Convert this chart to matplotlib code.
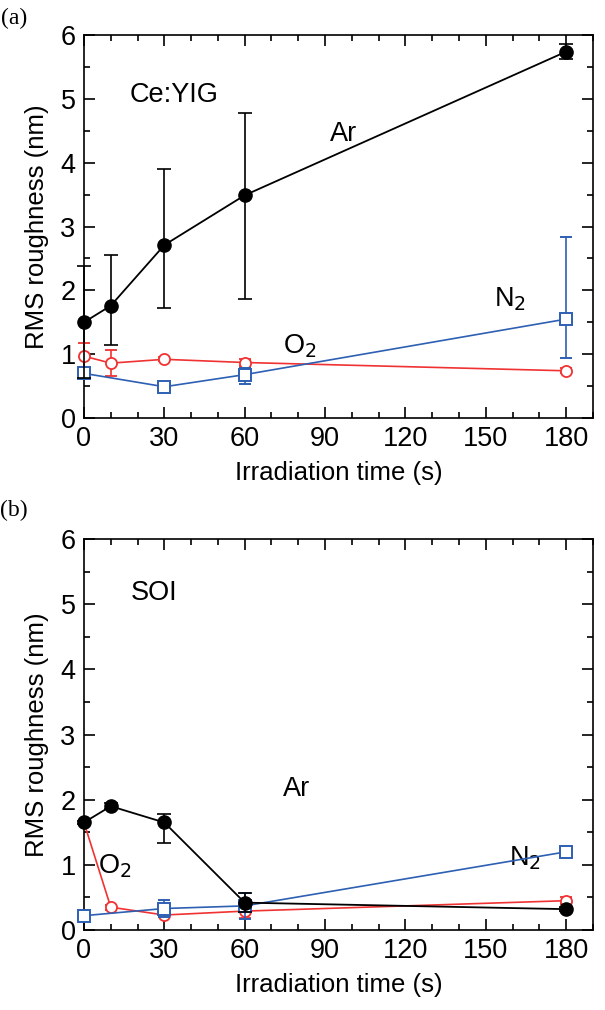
import matplotlib
matplotlib.use("Agg")
import matplotlib.pyplot as plt
from matplotlib.ticker import MultipleLocator

plt.rcParams['font.family'] = ['Liberation Sans', 'DejaVu Sans']

# (a) Ce:YIG
t_ar_a = [0, 10, 30, 60, 180]
ar_a = [1.50, 1.76, 2.71, 3.49, 5.74]
ar_a_lo = [0.88, 0.62, 0.98, 1.62, 0.11]
ar_a_hi = [0.88, 0.79, 1.19, 1.29, 0.12]

t_o2_a = [0, 10, 30, 60, 180]
o2_a = [0.97, 0.86, 0.92, 0.87, 0.74]
o2_a_err = [0.20, 0.20, 0.03, 0.05, 0.04]

t_n2_a = [0, 30, 60, 180]
n2_a = [0.70, 0.49, 0.68, 1.55]
n2_a_lo = [0.09, 0.08, 0.15, 0.61]
n2_a_hi = [0.09, 0.08, 0.10, 1.29]

# (b) SOI
t_ar_b = [0, 10, 30, 60, 180]
ar_b = [1.65, 1.90, 1.65, 0.42, 0.32]
ar_b_lo = [0.03, 0.05, 0.32, 0.15, 0.03]
ar_b_hi = [0.03, 0.05, 0.13, 0.15, 0.03]

t_o2_b = [0, 10, 30, 60, 180]
o2_b = [1.65, 0.35, 0.23, 0.29, 0.45]
o2_b_err = [0.0, 0.04, 0.03, 0.10, 0.05]

t_n2_b = [0, 30, 60, 180]
n2_b = [0.22, 0.33, 0.37, 1.20]
n2_b_err = [0.03, 0.13, 0.20, 0.08]

RED = '#f03232'
BLUE = '#2d5fb3'

fig = plt.figure(figsize=(6.05, 10.1), dpi=100)
axa = fig.add_axes([0.1388, 0.5861, 0.8413, 0.3792])
axb = fig.add_axes([0.1388, 0.0792, 0.8413, 0.3871])


def dibujar(ax, ar, o2, n2):
    ax.errorbar(o2[0], o2[1], yerr=o2[2], color=RED, marker='o', ms=8,
                mfc='white', mec=RED, mew=1.3, lw=1.2, capsize=4, capthick=1.2,
                elinewidth=1.2, clip_on=False, zorder=3)
    ax.errorbar(n2[0], n2[1], yerr=n2[2], color=BLUE, marker='s', ms=9,
                mfc='white', mec=BLUE, mew=1.4, lw=1.2, capsize=4, capthick=1.2,
                elinewidth=1.2, clip_on=False, zorder=4)
    ax.errorbar(ar[0], ar[1], yerr=ar[2], color='black', marker='o', ms=9.5,
                mfc='black', mec='black', lw=1.3, capsize=5, capthick=1.2,
                elinewidth=1.2, clip_on=False, zorder=5)
    ax.set_xlim(0, 190)
    ax.set_ylim(0, 6)
    ax.xaxis.set_major_locator(MultipleLocator(30))
    ax.xaxis.set_minor_locator(MultipleLocator(10))
    ax.yaxis.set_major_locator(MultipleLocator(1))
    ax.yaxis.set_minor_locator(MultipleLocator(0.5))
    ax.tick_params(which='both', direction='in', top=True, right=True,
                   width=1.2, labelsize=19.5)
    ax.tick_params(which='major', length=8, pad=6)
    ax.tick_params(which='minor', length=4)
    for s in ax.spines.values():
        s.set_linewidth(1.2)
    ax.set_xlabel('Irradiation time (s)', fontsize=18.5, labelpad=6)
    ax.set_ylabel('RMS roughness (nm)', fontsize=18.5, labelpad=8)


dibujar(axa, (t_ar_a, ar_a, [ar_a_lo, ar_a_hi]), (t_o2_a, o2_a, o2_a_err),
        (t_n2_a, n2_a, [n2_a_lo, n2_a_hi]))
dibujar(axb, (t_ar_b, ar_b, [ar_b_lo, ar_b_hi]), (t_o2_b, o2_b, o2_b_err),
        (t_n2_b, n2_b, n2_b_err))

fs = 19.5
axa.text(17, 5.06, 'Ce:YIG', fontsize=fs, va='center', ha='left')
axa.text(97, 4.45, 'Ar', fontsize=fs, va='center', ha='center')
axa.text(80.5, 1.12, 'O$_2$', fontsize=fs, va='center', ha='center')
axa.text(159, 1.86, 'N$_2$', fontsize=fs, va='center', ha='center')

axb.text(17.5, 5.17, 'SOI', fontsize=fs, va='center', ha='left')
axb.text(79.5, 2.17, 'Ar', fontsize=fs, va='center', ha='center')
axb.text(11.6, 0.98, 'O$_2$', fontsize=fs, va='center', ha='center')
axb.text(164.5, 1.10, 'N$_2$', fontsize=fs, va='center', ha='center')

fig.text(0.023, 0.982, '(a)', fontsize=17, family='Liberation Serif', va='center', ha='center')
fig.text(0.023, 0.495, '(b)', fontsize=17, family='Liberation Serif', va='center', ha='center')

fig.savefig('out.png', dpi=100)
